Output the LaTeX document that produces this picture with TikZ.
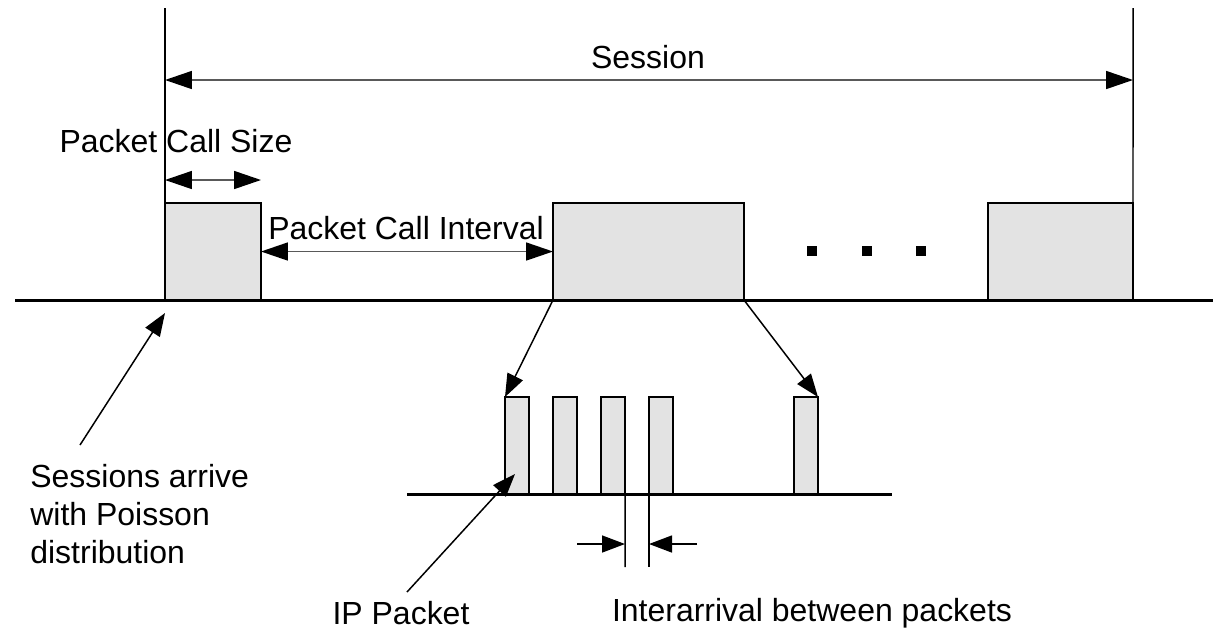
\documentclass[tikz,border=0pt]{standalone}
\usepackage{fontspec}
\setmainfont{Liberation Sans}
\usetikzlibrary{arrows.meta, positioning}

\begin{document}
\begin{tikzpicture}[
    x=0.02cm, y=-0.02cm,
    font=\fontsize{18.2}{21.6}\selectfont,
    call/.style={rectangle, draw=black, fill=black!11, line width=0.85pt, inner sep=0pt, outer sep=0pt, minimum height=1.94cm, anchor=south west},
    pkt/.style={rectangle, draw=black, fill=black!11, line width=0.85pt, inner sep=0pt, outer sep=0pt, minimum width=0.48cm, minimum height=1.94cm, anchor=south west},
    dot/.style={rectangle, fill=black, inner sep=0pt, minimum size=0.19cm},
    lbl/.style={inner sep=0pt},
    base/.style={line width=1.7pt},
    thin/.style={line width=0.85pt},
    arr/.style={-{Triangle[length=0.46cm, width=0.34cm, color=black]}, line width=0.85pt},
    dimarr/.style={{Triangle[length=0.54cm, width=0.36cm, color=black]}-{Triangle[length=0.54cm, width=0.36cm, color=black]}, line width=0.95pt, draw=black!65},
]
\useasboundingbox (0,0) rectangle (1213,630);

% session level
\coordinate (top1) at (165,8);
\coordinate (top2) at (1133,8);
\coordinate (lineL) at (15,300);
\coordinate (lineR) at (1213,300);
\node[call, minimum width=1.92cm] (call1) at (165,300) {};
\node[call, minimum width=3.82cm] (call2) at (553,300) {};
\node[call, minimum width=2.9cm] (call3) at (988,300) {};
\node[dot] (dot1) at (812,251) {};
\node[dot] (dot2) at (867,251) {};
\node[dot] (dot3) at (921,251) {};

\coordinate (sesL) at (165,80);
\coordinate (sesR) at (1133,80);
\coordinate (sizeL) at (165,180);
\coordinate (sizeR) at (261,180);
\node[lbl] (session) at (648,57) {Session};
\node[lbl] (size) at (176,141) {Packet Call Size};
\node[lbl] (interval) at (406,228) {Packet Call Interval};
\node[lbl, align=left, anchor=north west] (arrive) at (30,464) {Sessions arrive\\with Poisson\\distribution};

% packet level
\coordinate (pktL) at (407,494);
\coordinate (pktR) at (892,494);
\node[pkt] (p1) at (505,494) {};
\node[pkt] (p2) at (553,494) {};
\node[pkt] (p3) at (601,494) {};
\node[pkt] (p4) at (649,494) {};
\node[pkt] (p5) at (794,494) {};

\coordinate (gapL) at (625,567);
\coordinate (gapR) at (649,567);
\coordinate (gapinL) at (577,544);
\coordinate (gaptipL) at (625,544);
\coordinate (gapinR) at (697,544);
\coordinate (gaptipR) at (649,544);
\coordinate (ipfrom) at (407,592);
\coordinate (ipto) at (515,474);
\coordinate (arrfrom) at (80,445);
\coordinate (arrto) at (165,313);
\node[lbl] (ippacket) at (401,613) {IP Packet};
\node[lbl] (interarrival) at (812,613) {Interarrival between packets};

\draw[base] (lineL) -- (lineR);
\draw[base] (pktL) -- (pktR);
\draw[thin] (top1) -- (call1.south west);
\draw[thin] (top2) -- (call3.south east);
\draw[dimarr] (sesL) -- (sesR);
\draw[dimarr] (sizeL) -- (sizeR);
\draw[dimarr] (call1.east) -- (call2.west);
\draw[arr] (call2.south west) -- (p1.north west);
\draw[arr] (call2.south east) -- (p5.north east);
\draw[thin] (p3.south east) -- (gapL);
\draw[thin] (p4.south west) -- (gapR);
\draw[arr] (gapinL) -- (gaptipL);
\draw[arr] (gapinR) -- (gaptipR);
\draw[arr] (ipfrom) -- (ipto);
\draw[arr] (arrfrom) -- (arrto);

\end{tikzpicture}
\end{document}
